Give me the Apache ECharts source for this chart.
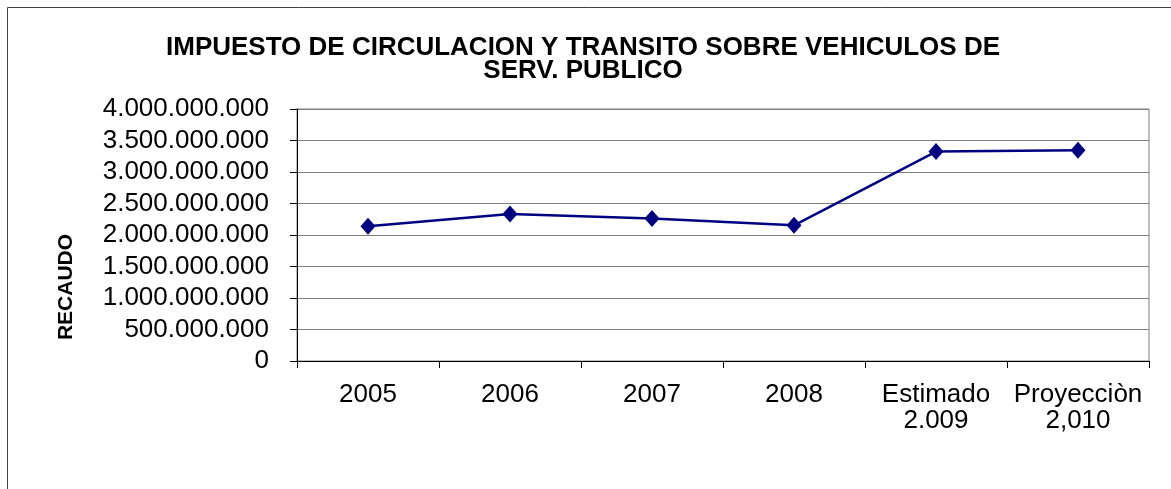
<!DOCTYPE html>
<html>
<head>
<meta charset="utf-8">
<script src="https://cdn.jsdelivr.net/npm/echarts@6/dist/echarts.min.js"></script>
<style>
  html, body { margin: 0; padding: 0; background: #fff; }
  #chart { width: 1171px; height: 489px; }
</style>
</head>
<body>
<div id="chart"></div>
<script>
// data
const categories = ['2005', '2006', '2007', '2008', 'Estimado\n2.009', 'Proyecciòn\n2,010']
const recaudo = [2138000000, 2335000000, 2261000000, 2154000000, 3324000000, 3346000000]
const yTicks = { min: 0, max: 4000000000, interval: 500000000 }

function fmtMiles(v) {
    return String(v).replace(/\B(?=(\d{3})+(?!\d))/g, '.')
}

const chart = echarts.init(document.getElementById('chart'))
chart.setOption({
    animation: false,
    textStyle: { fontFamily: 'Liberation Sans, Arial, sans-serif' },
    graphic: [
        { type: 'rect', shape: { x: 7.5, y: 7.5, width: 1200, height: 520 }, style: { fill: 'none', stroke: '#404040', lineWidth: 1 } },
        // axis title sits lower than the plot middle in the original
        {
            type: 'text', x: 66, y: 287, rotation: Math.PI / 2,
            style: { text: 'RECAUDO', font: 'bold 21px Liberation Sans, Arial, sans-serif', fill: '#000', align: 'center', verticalAlign: 'middle' }
        }
    ],
    title: {
        text: 'IMPUESTO DE CIRCULACION Y TRANSITO SOBRE VEHICULOS DE\nSERV. PUBLICO',
        left: 578, top: 31, textAlign: 'center',
        textStyle: { fontSize: 26, fontWeight: 'bold', color: '#000', lineHeight: 23 }
    },
    grid: { left: 297, right: 22, top: 109, bottom: 128, show: true, borderColor: '#808080', borderWidth: 1 },
    xAxis: {
        type: 'category',
        data: categories,
        boundaryGap: true,
        axisLine: { lineStyle: { color: '#000', width: 1 } },
        axisTick: { show: true, length: 7, lineStyle: { color: '#000' } },
        axisLabel: { color: '#000', fontSize: 26, margin: 21, lineHeight: 26, interval: 0 }
    },
    yAxis: {
        type: 'value',
        min: yTicks.min, max: yTicks.max, interval: yTicks.interval,
        axisLine: { show: true, lineStyle: { color: '#000', width: 1 } },
        axisTick: { show: true, length: 7, lineStyle: { color: '#000' } },
        axisLabel: { color: '#000', fontSize: 26, margin: 28, formatter: fmtMiles },
        splitLine: { lineStyle: { color: '#808080', width: 1 } }
    },
    series: [{
        type: 'line',
        data: recaudo,
        symbol: 'diamond',
        symbolSize: [15, 17],
        lineStyle: { color: '#000080', width: 2.5 },
        itemStyle: { color: '#000080' }
    }]
})
</script>
</body>
</html>
